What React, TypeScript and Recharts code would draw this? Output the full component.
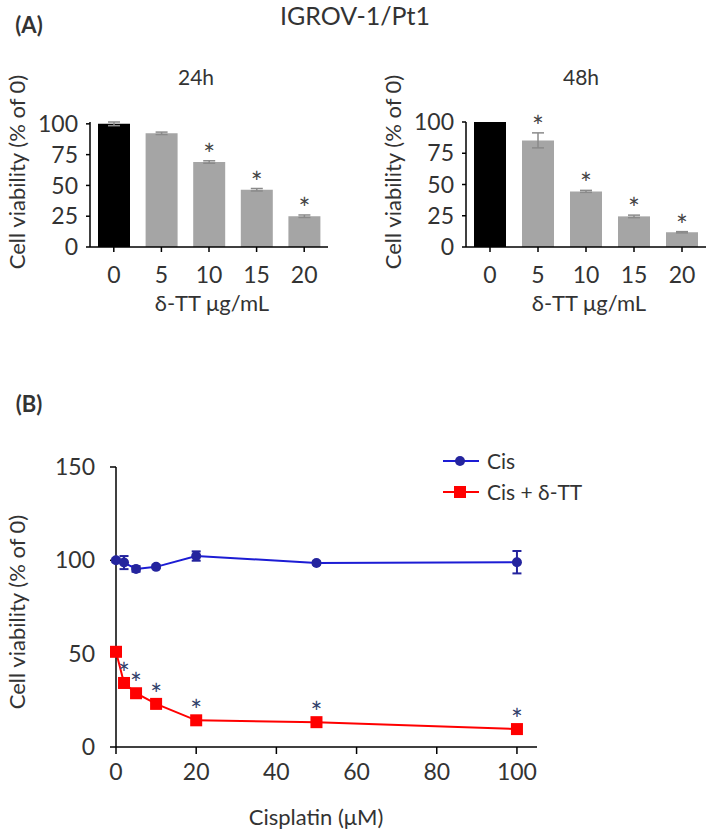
import {
  BarChart, Bar, Cell, XAxis, YAxis, ErrorBar, LabelList,
  LineChart, Line, Legend,
} from "recharts";

// panel A: δ-TT alone
const doses = ["0", "5", "10", "15", "20"];
const v24 = [100, 92.3, 69, 46.5, 25];
const e24 = [1.5, 1, 1, 1, 1];
const s24 = [false, false, true, true, true];
const v48 = [100, 85.3, 44.5, 24.5, 11.8];
const e48 = [0, 6, 0.8, 1, 0.5];
const s48 = [false, true, true, true, true];

// panel B: cisplatin +/- δ-TT
const conc = [0, 2, 5, 10, 20, 50, 100];
const cisVals = [100, 98.8, 95.4, 96.5, 102.3, 98.6, 99];
const cisErr = [1, 3.5, 1.5, 0.8, 2.5, 0.8, 6];
const comboVals = [51, 34.3, 28.8, 23.1, 14.3, 13.3, 9.6];
const comboErr = [0.8, 1.5, 1, 1, 0.8, 0.8, 0.5];
const comboStars = [false, true, true, true, true, true, true];

const FONT = "Lato, 'Open Sans', sans-serif";
const TXT = "#333";
const BLUE = "#1c1cd4";
const BLUE_DOT = "#24249e";
const RED = "#ff0000";

const tick = { fontSize: 23, fill: TXT, fontFamily: FONT };

const Txt = ({ x, y, size, children, rotate, bold }: any) => (
  <div
    style={{
      position: "absolute", left: x, top: y, fontSize: size, color: TXT,
      fontWeight: bold ? 700 : 400, whiteSpace: "nowrap", lineHeight: 1.2,
      transform: `translate(-50%, -50%)${rotate ? " rotate(-90deg)" : ""}`,
    }}
  >
    {children}
  </div>
);

const barStar = (errs: number[], stars: boolean[]) => (props: any) => {
  const { index, value } = props;
  const vb = props.viewBox || props;
  if (!stars[index]) return null;
  const x = vb.x ?? props.x, y = vb.y ?? props.y;
  const w = vb.width ?? props.width, h = vb.height ?? props.height;
  const top = y - (errs[index] * h) / value;
  return (
    <text key={index} x={x + w / 2} y={top + 4} textAnchor="middle" fontSize={28} fill="#444" fontFamily={FONT}>*</text>
  );
};

const BarPanel = ({ vals, errs, stars, left }: any) => {
  const data = doses.map((d, i) => ({ dose: d, v: vals[i], err: errs[i] }));
  return (
    <div style={{ position: "absolute", left, top: 0 }}>
      <BarChart width={left === 0 ? 340 : 333} height={320} data={data}
        margin={{ top: 122, right: left === 0 ? 12 : 3, left: 0, bottom: 43 }}>
        <XAxis dataKey="dose" height={30} interval={0} tick={tick} tickSize={5} tickMargin={15}
          stroke="#000" strokeWidth={1.5} />
        <YAxis domain={[0, 100]} ticks={[0, 25, 50, 75, 100]} width={90} tick={tick}
          tickSize={4} tickMargin={8} stroke="#000" strokeWidth={1.5} interval={0} />
        <Bar dataKey="v" barSize={32} isAnimationActive={false}>
          {data.map((_, i) => (
            <Cell key={i} fill={i === 0 ? "#000" : "#a5a5a5"} />
          ))}
          <ErrorBar dataKey="err" width={6} stroke="#8a8a8a" strokeWidth={1.5} />
          <LabelList dataKey="v" content={barStar(errs, stars)} />
        </Bar>
      </BarChart>
    </div>
  );
};

const lineData = conc.map((c, i) => ({
  conc: c, cis: cisVals[i], cisErr: cisErr[i], combo: comboVals[i], comboErr: comboErr[i],
}));

const SquareDot = (props: any) => {
  const { cx, cy, index } = props;
  return <rect key={`sq-${index}`} x={cx - 6} y={cy - 6} width={12} height={12} fill={RED} />;
};

const lineStar = (props: any) => {
  const { index } = props;
  if (!comboStars[index]) return null;
  const vb = props.viewBox || props;
  const x = vb.x ?? props.x, y = vb.y ?? props.y;
  return (
    <text key={index} x={x} y={y + 1} textAnchor="middle" fontSize={28} fill="#30406a" fontFamily={FONT}>*</text>
  );
};

const LegendBox = ({ payload }: any) => (
  <div style={{ fontSize: 21, color: TXT, fontFamily: FONT }}>
    {(payload || []).map((p: any, i: number) => (
      <div key={p.value} style={{ display: "flex", alignItems: "center", height: 31 }}>
        <svg width={36} height={14}>
          <line x1={0} x2={36} y1={7} y2={7} stroke={p.color} strokeWidth={2} />
          {i === 0
            ? <circle cx={17} cy={7} r={5} fill={BLUE_DOT} />
            : <rect x={11} y={1} width={12} height={12} fill={RED} />}
        </svg>
        <span style={{ marginLeft: 8 }}>{p.value}</span>
      </div>
    ))}
  </div>
);

export default function App() {
  return (
    <div style={{ position: "absolute", left: 0, top: 0, width: 709, height: 832, background: "#fff", fontFamily: FONT, overflow: "hidden" }}>
      <Txt x={29} y={25} size={22} bold>(A)</Txt>
      <Txt x={355} y={15} size={25}>IGROV-1/Pt1</Txt>
      <Txt x={196} y={77} size={21}>24h</Txt>
      <Txt x={581} y={77} size={21}>48h</Txt>

      <BarPanel vals={v24} errs={e24} stars={s24} left={0} />
      <BarPanel vals={v48} errs={e48} stars={s48} left={376} />

      <Txt x={17} y={172} size={22} rotate>Cell viability (% of 0)</Txt>
      <Txt x={393} y={172} size={22} rotate>Cell viability (% of 0)</Txt>
      <Txt x={212} y={303} size={22}>δ-TT μg/mL</Txt>
      <Txt x={589} y={303} size={22}>δ-TT μg/mL</Txt>

      <Txt x={29} y={404} size={22} bold>(B)</Txt>

      <div style={{ position: "absolute", left: 0, top: 380 }}>
        <LineChart width={709} height={452} data={lineData}
          margin={{ top: 87, right: 172, left: 0, bottom: 55 }}>
          <XAxis dataKey="conc" type="number" domain={[0, 105]} ticks={[0, 20, 40, 60, 80, 100]}
            height={30} tick={tick} tickSize={7} tickMargin={10} stroke="#000" strokeWidth={1.5} />
          <YAxis domain={[0, 150]} ticks={[0, 50, 100, 150]} width={116} tick={tick}
            tickSize={6} tickMargin={15} stroke="#000" strokeWidth={1.5} interval={0} />
          <Line dataKey="cis" name="Cis" stroke={BLUE} strokeWidth={2}
            dot={{ r: 5, fill: BLUE_DOT, stroke: BLUE_DOT, strokeWidth: 0 }} isAnimationActive={false}>
            <ErrorBar dataKey="cisErr" width={4.5} stroke={BLUE_DOT} strokeWidth={2} direction="y" />
          </Line>
          <Line dataKey="combo" name="Cis + δ-TT" stroke={RED} strokeWidth={2}
            dot={SquareDot} isAnimationActive={false}>
            <ErrorBar dataKey="comboErr" width={4} stroke={RED} strokeWidth={2} direction="y" />
            <LabelList dataKey="combo" content={lineStar} />
          </Line>
          <Legend layout="vertical" align="center" verticalAlign="middle" content={LegendBox}
            wrapperStyle={{ left: 443, top: 65, width: "auto" }} />
        </LineChart>
      </div>

      <Txt x={17} y={612} size={22} rotate>Cell viability (% of 0)</Txt>
      <Txt x={316} y={817} size={22}>Cisplatin (μM)</Txt>
    </div>
  );
}
